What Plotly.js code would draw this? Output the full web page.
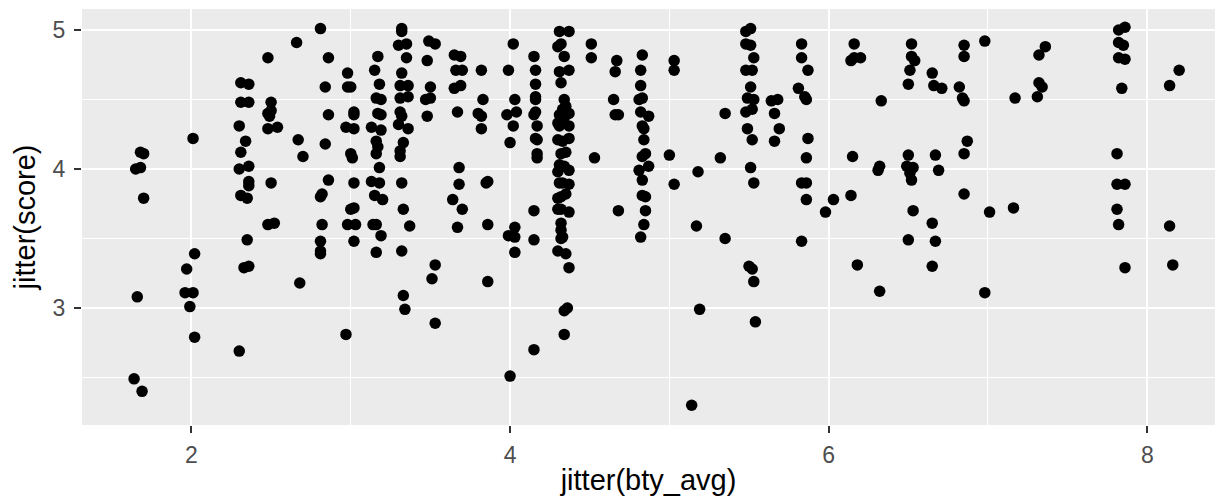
<!DOCTYPE html>
<html>
<head>
<meta charset="utf-8">
<script src="https://cdn.plot.ly/plotly-3.0.1.min.js"></script>
<style>html,body{margin:0;padding:0;background:#fff;}#chart{width:1222px;height:496px;}</style>
</head>
<body>
<div id="chart"></div>
<script>
// jittered bty_avg (x) and score (y), grouped by x region
const btyA = [1.68,1.70,1.65,1.68,1.70,2.01,1.66,1.64,1.69,2.02,1.97,1.96,2.01,1.99,2.02,
  2.31,2.36,2.31,2.36,2.30,2.34,2.31,2.30,2.36,2.36,2.36,2.31,2.35,2.35,2.33,2.36,2.30,
  2.48,2.50,2.48,2.50,2.49,2.48,2.54,2.50,2.48,2.52];
const scoreA = [4.12,4.11,4.00,4.01,3.79,4.22,3.08,2.49,2.40,3.39,3.28,3.11,3.11,3.01,2.79,
  4.62,4.61,4.48,4.48,4.31,4.20,4.12,4.00,4.02,3.91,3.88,3.81,3.79,3.49,3.29,3.30,2.69,
  4.80,4.48,4.40,4.42,4.38,4.29,4.30,3.90,3.60,3.61];

const btyB = [2.66,2.81,2.86,2.84,2.86,2.67,2.70,2.84,2.86,2.81,2.82,2.82,2.81,2.81,2.81,2.68,
  2.98,2.98,3.00,3.02,3.02,2.97,3.02,3.00,3.01,3.02,3.00,3.02,2.98,3.03,3.02,2.97];
const scoreB = [4.91,5.01,4.80,4.59,4.39,4.21,4.09,4.18,3.92,3.80,3.82,3.60,3.48,3.41,3.39,3.18,
  4.69,4.59,4.59,4.41,4.39,4.30,4.29,4.11,4.08,3.90,3.71,3.72,3.60,3.60,3.48,2.81];

const btyC = [3.17,3.15,3.18,3.16,3.19,3.17,3.19,3.13,3.19,3.16,3.17,3.16,3.18,3.13,3.18,3.15,3.20,3.14,3.16,3.19,3.16,
  3.32,3.32,3.30,3.35,3.35,3.32,3.31,3.36,3.31,3.36,3.31,3.32,3.30,3.36,3.33,3.31,3.31,3.32,3.33,3.37,3.32,3.33,3.34,
  3.49,3.53,3.48,3.50,3.47,3.50,3.48,3.53,3.51,3.53];
const scoreC = [4.81,4.71,4.61,4.51,4.50,4.40,4.39,4.30,4.28,4.20,4.16,4.11,4.01,3.91,3.90,3.81,3.78,3.60,3.60,3.52,3.40,
  5.01,4.99,4.89,4.90,4.80,4.69,4.60,4.60,4.51,4.52,4.41,4.38,4.32,4.29,4.19,4.13,4.09,3.90,3.71,3.59,3.41,3.09,2.99,
  4.92,4.90,4.78,4.59,4.50,4.51,4.38,3.31,3.21,2.89];

const btyD = [3.65,3.69,3.66,3.70,3.65,3.69,3.67,3.68,3.68,3.64,3.70,3.67,
  3.82,3.83,3.80,3.82,3.82,3.86,3.85,3.86,3.86,
  4.02,3.99,4.03,3.98,4.04,4.02,4.00,4.03,3.99,4.03,4.03,4.00,
  4.15,4.16,4.16,4.16,4.16,4.16,4.15,4.17,4.16,4.17,4.17,4.17,4.15,4.15,4.15];
const scoreD = [4.82,4.81,4.71,4.71,4.58,4.60,4.41,4.01,3.89,3.78,3.71,3.58,
  4.71,4.50,4.40,4.38,4.29,3.91,3.90,3.60,3.19,
  4.90,4.71,4.50,4.39,4.41,4.31,4.19,3.58,3.52,3.51,3.40,2.51,
  4.81,4.71,4.61,4.52,4.50,4.41,4.39,4.31,4.22,4.21,4.11,4.08,3.70,3.49,2.70];

const btyE = [4.31,4.37,4.32,4.30,4.34,4.31,4.37,4.32,4.34,4.33,4.31,4.37,4.34,4.31,4.37,4.30,4.37,4.33,4.32,4.34,
  4.31,4.37,4.33,4.37,4.31,4.32,4.30,4.32,4.37,4.30,4.32,4.32,4.32,4.30,4.35,4.37,4.36,4.34,4.34,
  4.35,4.30,4.35,4.30,4.35,4.33];
const scoreE = [4.99,4.99,4.90,4.88,4.81,4.70,4.71,4.62,4.50,4.43,4.39,4.40,4.37,4.31,4.31,4.21,4.22,4.20,4.11,4.02,
  4.03,3.99,3.90,3.89,3.90,3.80,3.79,3.71,3.69,3.71,3.61,3.56,3.50,3.41,3.39,3.29,3.00,2.98,2.81,
  4.45,4.33,4.12,3.98,3.82,3.51];

const btyF = [4.51,4.51,4.53,4.67,4.66,4.65,4.68,4.66,4.68,
  4.83,4.82,4.82,4.83,4.81,4.82,4.87,4.83,4.84,4.84,4.85,4.83,4.87,4.81,4.83,4.83,4.85,4.85,4.84,4.82,
  5.03,5.03,5.00,5.03,5.18,5.17,5.19,5.14,5.35,5.32,5.35];
const scoreF = [4.90,4.80,4.08,4.78,4.70,4.50,4.39,4.39,3.70,
  4.82,4.71,4.60,4.51,4.50,4.41,4.38,4.31,4.29,4.21,4.11,4.09,4.02,3.99,3.92,3.81,3.80,3.70,3.60,3.51,
  4.78,4.71,4.10,3.89,3.98,3.59,2.99,2.30,4.40,4.08,3.50];

const btyG = [5.48,5.51,5.48,5.51,5.53,5.48,5.52,5.51,5.49,5.53,5.48,5.52,5.49,5.52,5.51,5.53,5.50,5.52,5.53,5.54,
  5.64,5.68,5.66,5.69,5.66,
  5.83,5.83,5.87,5.81,5.85,5.86,5.87,5.86,5.83,5.86,5.86,5.83,5.98,6.03,
  6.16,6.16,6.20,6.14,6.33,6.15,6.14,6.32,6.31,6.18,6.32];
const scoreG = [4.99,5.01,4.90,4.89,4.80,4.71,4.71,4.59,4.51,4.50,4.41,4.43,4.29,4.21,4.01,3.90,3.30,3.28,3.19,2.90,
  4.49,4.50,4.40,4.29,4.20,
  4.90,4.80,4.71,4.58,4.52,4.50,4.22,4.08,3.90,3.90,3.78,3.48,3.69,3.78,
  4.90,4.80,4.80,4.78,4.49,4.09,3.81,4.02,3.99,3.31,3.12];

const btyH = [6.52,6.52,6.54,6.51,6.50,6.50,6.49,6.53,6.51,6.52,6.53,6.50,
  6.65,6.66,6.71,6.85,6.85,6.98,6.82,6.84,6.85,6.87,6.85,6.67,6.69,6.85,6.65,6.67,6.65,7.01,6.98,
  7.17,7.36,7.32,7.32,7.34,7.31,7.16,
  7.82,7.86,7.82,7.85,7.82,7.86,7.84,7.81,7.81,7.86,7.81,7.82,7.86,
  8.20,8.14,8.14,8.16];
const scoreH = [4.90,4.81,4.78,4.71,4.61,4.10,4.02,4.01,3.97,3.92,3.70,3.49,
  4.69,4.60,4.58,4.89,4.81,4.92,4.59,4.51,4.49,4.20,4.11,4.10,3.99,3.82,3.61,3.48,3.30,3.69,3.11,
  4.51,4.88,4.82,4.62,4.59,4.52,3.72,
  5.00,5.02,4.91,4.89,4.80,4.79,4.58,4.11,3.89,3.89,3.71,3.60,3.29,
  4.71,4.60,3.59,3.31];

const xTicks = [2, 4, 6, 8];
const yTicks = [3, 4, 5];

const xs = [].concat(btyA, btyB, btyC, btyD, btyE, btyF, btyG, btyH);
const ys = [].concat(scoreA, scoreB, scoreC, scoreD, scoreE, scoreF, scoreG, scoreH);

const font = 'Liberation Sans, Arial, Helvetica, sans-serif';

Plotly.newPlot('chart', [{
  x: xs, y: ys, type: 'scatter', mode: 'markers',
  marker: {color: '#000000', size: 11.5, line: {width: 0}},
  hoverinfo: 'x+y'
}], {
  width: 1222, height: 496,
  margin: {l: 82, r: 7, t: 9, b: 71, pad: 0},
  paper_bgcolor: '#ffffff',
  plot_bgcolor: '#EBEBEB',
  showlegend: false,
  xaxis: {
    range: [1.313, 8.425],
    tickvals: xTicks, ticktext: xTicks.map(String),
    showgrid: true, gridcolor: '#ffffff', gridwidth: 2,
    minor: {tickvals: [3, 5, 7], showgrid: true, gridcolor: '#ffffff', gridwidth: 1, ticks: ''},
    zeroline: false, showline: false,
    ticks: 'outside', ticklen: 7, tickwidth: 2, tickcolor: '#333333',
    tickfont: {family: font, size: 23, color: '#4D4D4D'},
    ticklabelstandoff: 2,
    title: {text: 'jitter(bty_avg)', font: {family: font, size: 29, color: '#000000'}, standoff: 6}
  },
  yaxis: {
    range: [2.158, 5.151],
    tickvals: yTicks, ticktext: yTicks.map(String),
    showgrid: true, gridcolor: '#ffffff', gridwidth: 2,
    minor: {tickvals: [2.5, 3.5, 4.5], showgrid: true, gridcolor: '#ffffff', gridwidth: 1, ticks: ''},
    zeroline: false, showline: false,
    ticks: 'outside', ticklen: 7, tickwidth: 2, tickcolor: '#333333',
    tickfont: {family: font, size: 23, color: '#4D4D4D'},
    ticklabelstandoff: 4,
    title: {text: 'jitter(score)', font: {family: font, size: 29, color: '#000000'}, standoff: 8}
  }
}, {displayModeBar: false, staticPlot: true});
</script>
</body>
</html>
